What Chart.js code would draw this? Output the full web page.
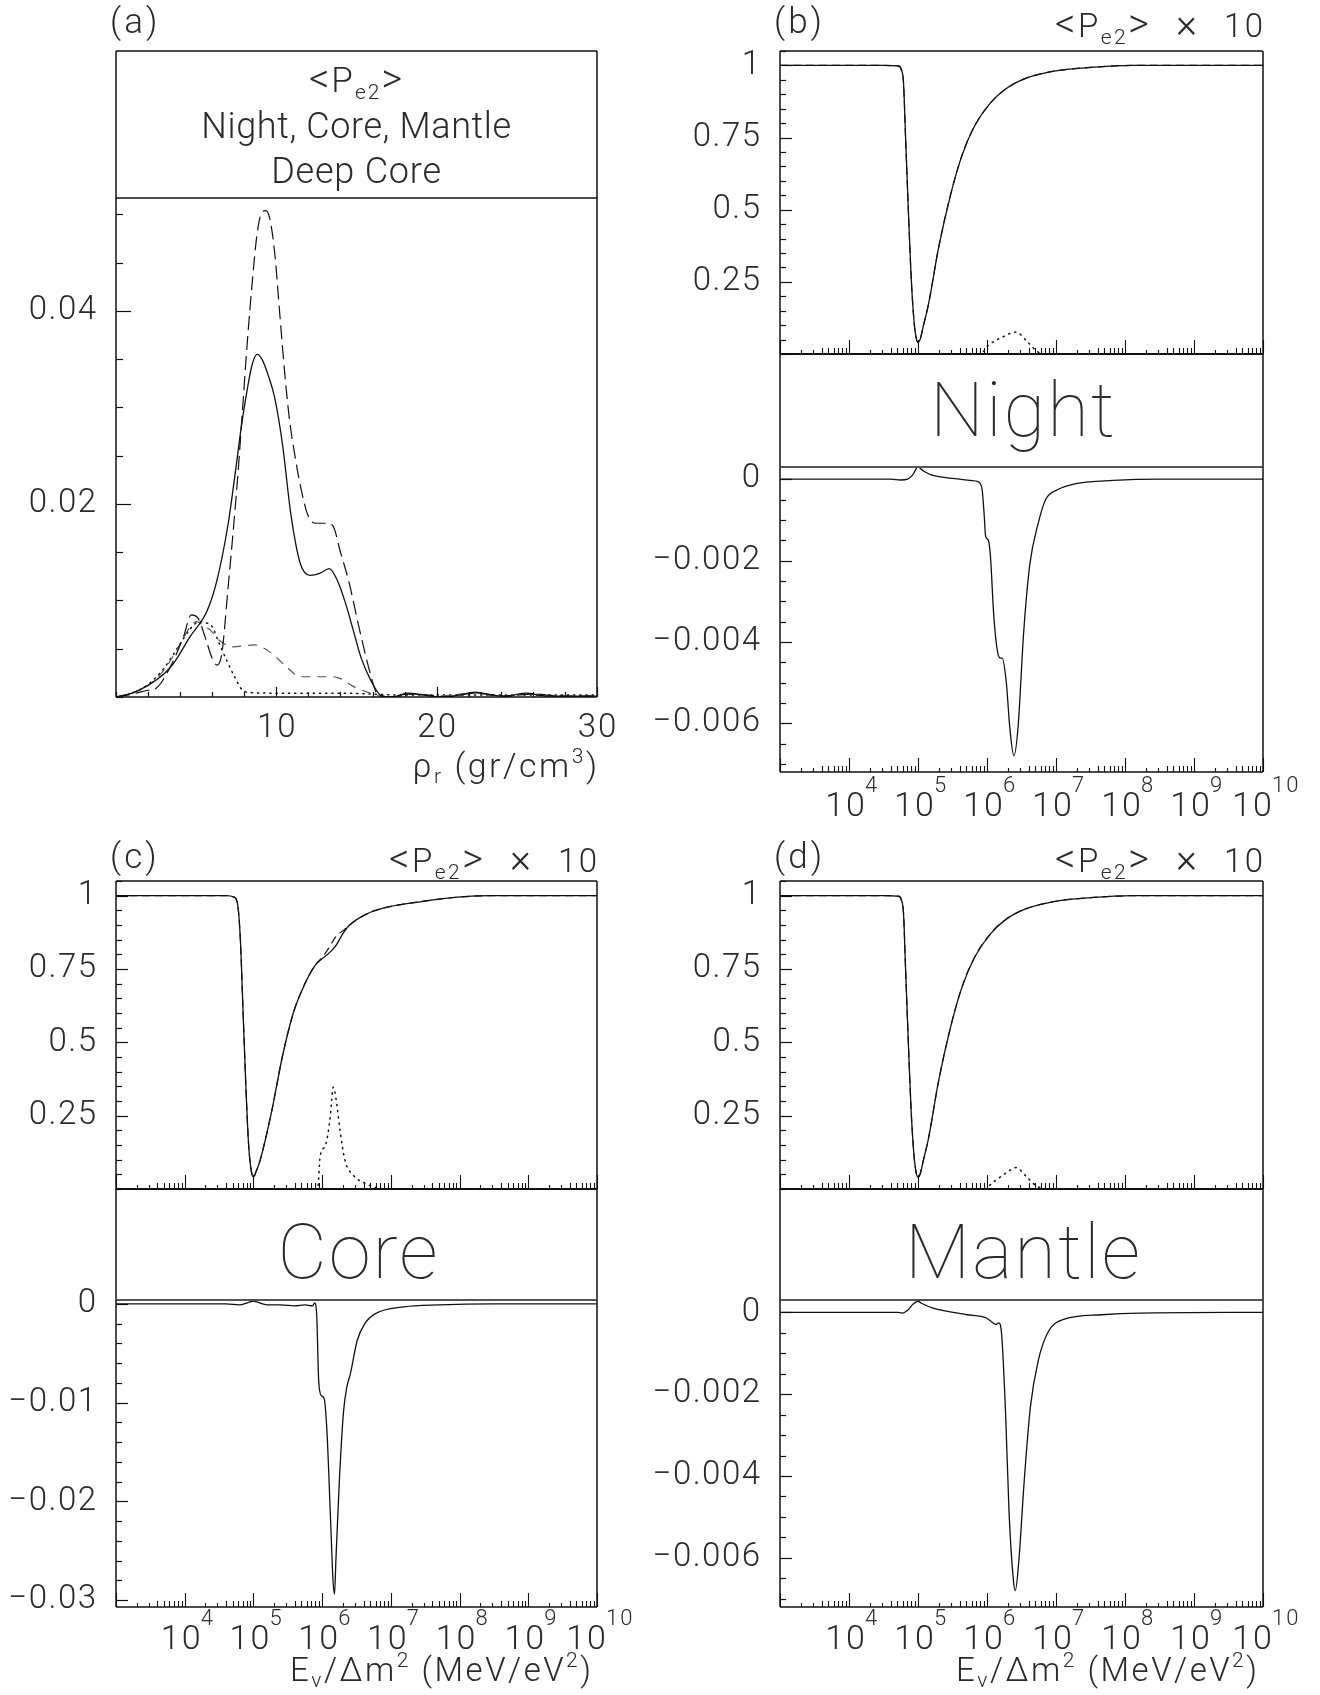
<!DOCTYPE html>
<html><head><meta charset="utf-8">
<script src="https://cdn.jsdelivr.net/npm/chart.js@4.4.1/dist/chart.umd.min.js"></script>
<style>
html,body{margin:0;padding:0;background:#fff;}
#wrap{position:relative;width:1320px;height:1695px;background:#fff;}
canvas{position:absolute;left:0;top:0;pointer-events:none;}
</style></head><body><div id="wrap">
<canvas id="cA" width="1320" height="1695"></canvas>
<canvas id="cBu" width="1320" height="1695"></canvas>
<canvas id="cBl" width="1320" height="1695"></canvas>
<canvas id="cCu" width="1320" height="1695"></canvas>
<canvas id="cCl" width="1320" height="1695"></canvas>
<canvas id="cDu" width="1320" height="1695"></canvas>
<canvas id="cDl" width="1320" height="1695"></canvas>
</div>
<script>
// ===================== DATA =====================
// Panel (a): distributions vs rho_r (gr/cm^3)
const aRhoNight = [0, 1, 2, 3, 3.6, 4.6, 5.7, 6.3, 7.0, 7.5, 7.8, 8.2, 8.5, 8.8, 9.1, 9.5, 9.9, 10.4, 10.9, 11.5, 12.1, 12.7, 13.3, 13.8, 14.3, 14.8, 15.3, 15.9, 16.5, 17.2, 18.2, 19.2, 20.4, 21.4, 22.4, 23.4, 24.3, 25.6, 26.8, 28, 30];
const aNight    = [0, 0.0004, 0.0012, 0.0024, 0.0035, 0.0062, 0.009, 0.0121, 0.018, 0.024, 0.0278, 0.032, 0.0345, 0.0355, 0.035, 0.0333, 0.031, 0.026, 0.019, 0.0138, 0.0126, 0.0128, 0.0133, 0.0121, 0.0098, 0.0069, 0.004, 0.0017, 0.0002, 0, 0.0004, 0.0002, 0, 0.0002, 0.0005, 0.0002, 0.0001, 0.0004, 0.0001, 0.0001, 0.0001];
const aRhoCore  = [0, 1, 2, 2.5, 3.5, 4.2, 4.7, 5.1, 5.6, 6.0, 6.3, 6.6, 7.0, 7.3, 7.6, 7.9, 8.2, 8.5, 8.8, 9.1, 9.35, 9.6, 9.9, 10.2, 10.5, 10.8, 11.1, 11.5, 12.0, 12.5, 13.0, 13.5, 14.0, 14.5, 15.2, 15.85, 16.3, 17, 18.2, 19.5, 20.5, 22.4, 24.3, 25.8, 28, 30];
const aCore     = [0, 0.0003, 0.0007, 0.0009, 0.0035, 0.0062, 0.0085, 0.0082, 0.006, 0.004, 0.0033, 0.0045, 0.0115, 0.017, 0.023, 0.03, 0.037, 0.043, 0.048, 0.0502, 0.0504, 0.0495, 0.046, 0.04, 0.034, 0.029, 0.0256, 0.0219, 0.0187, 0.018, 0.018, 0.0178, 0.015, 0.0121, 0.0069, 0.0025, 0.0003, 0, 0.0003, 0.0002, 0, 0.0004, 0.0001, 0.0003, 0.0001, 0.0001];
const aRhoMantle = [0, 1, 2, 3, 4, 4.6, 5.0, 5.4, 5.9, 6.5, 7.3, 8.0, 8.6, 9.4, 10.0, 10.65, 11.5, 12.7, 13.5, 14.0, 14.8, 15.85, 16.5, 17.5, 18.5, 20, 22.5, 24, 26, 28, 30];
const aMantle    = [0, 0.0004, 0.0012, 0.0028, 0.0055, 0.0072, 0.0078, 0.0075, 0.0069, 0.0058, 0.0052, 0.0053, 0.0054, 0.0049, 0.0041, 0.0031, 0.0021, 0.0021, 0.0021, 0.0019, 0.0011, 0.0004, 0.0001, 0, 0.0003, 0.0001, 0.0004, 0.0001, 0.0003, 0, 0.0001];
const aRhoDeep = [0, 1, 2, 3, 4, 4.6, 5.2, 5.6, 6.0, 6.4, 6.9, 7.4, 7.9, 8.5, 10, 12, 14, 16, 18, 20, 22, 24, 26, 28, 30];
const aDeep    = [0, 0.0004, 0.0013, 0.003, 0.0055, 0.007, 0.0078, 0.0077, 0.0073, 0.0057, 0.0038, 0.0021, 0.0007, 0.00045, 0.0004, 0.0004, 0.0004, 0.0003, 0.0002, 0.0002, 0.0002, 0.0002, 0.0002, 0.0002, 0.0002];

// Panel (b) Night: log10(E/dm2) and <Pe2>
const bLogE   = [3, 4.5, 4.72, 4.76, 4.79, 4.82, 4.86, 4.9, 4.94, 4.97, 5.0, 5.03, 5.08, 5.15, 5.3, 5.47, 5.64, 5.82, 6.05, 6.28, 6.56, 6.97, 7.5, 8.1, 10];
const bNightP = [1, 1, 0.998, 0.985, 0.94, 0.75, 0.5, 0.27, 0.12, 0.06, 0.04, 0.05, 0.1, 0.17, 0.37, 0.55, 0.69, 0.79, 0.87, 0.92, 0.955, 0.98, 0.993, 1.0, 1.0];
const bNightPAlt = [1, 1, 0.998, 0.985, 0.94, 0.75, 0.5, 0.27, 0.12, 0.06, 0.04, 0.05, 0.1, 0.17, 0.37, 0.55, 0.69, 0.79, 0.87, 0.92, 0.955, 0.98, 0.993, 1.0, 1.0];
const bDotLogE = [3, 5.9, 6.02, 6.22, 6.42, 6.59, 6.74, 6.9, 10];
const bDot     = [0, 0, 0.03, 0.058, 0.076, 0.041, 0.007, 0, 0];
const bLowLogE = [3, 4.6, 4.75, 4.85, 4.92, 5.0, 5.08, 5.2, 5.4, 5.6, 5.75, 5.87, 5.9, 5.93, 5.96, 5.98, 6.02, 6.05, 6.1, 6.16, 6.2, 6.22, 6.28, 6.33, 6.39, 6.45, 6.53, 6.62, 6.74, 6.85, 7.02, 7.31, 7.83, 8.5, 10];
const bLow     = [0, 0, -0.00002, 0, 0.0001, 0.0003, 0.0002, 0.0001, 0.00004, 0, -0.00003, -0.00006, -0.0001, -0.00026, -0.0009, -0.0014, -0.0015, -0.0019, -0.0034, -0.0043, -0.0044, -0.0044, -0.005, -0.0061, -0.0068, -0.0061, -0.0038, -0.0021, -0.0011, -0.0005, -0.00026, -0.0001, -0.00003, 0, 0];

// Panel (c) Core
const cLogE    = [3, 4.6, 4.72, 4.77, 4.81, 4.85, 4.89, 4.93, 4.97, 5.0, 5.04, 5.1, 5.27, 5.42, 5.58, 5.73, 5.89, 6.0, 6.08, 6.2, 6.3, 6.4, 6.67, 6.93, 7.45, 7.97, 8.5, 10];
const cCoreP   = [1, 1, 0.995, 0.97, 0.85, 0.6, 0.35, 0.15, 0.06, 0.04, 0.06, 0.1, 0.27, 0.45, 0.6, 0.69, 0.76, 0.785, 0.8, 0.83, 0.87, 0.9, 0.94, 0.96, 0.98, 0.995, 1.0, 1.0];
const cCorePAlt= [1, 1, 0.995, 0.97, 0.85, 0.6, 0.35, 0.15, 0.06, 0.04, 0.06, 0.1, 0.27, 0.45, 0.6, 0.69, 0.76, 0.79, 0.815, 0.86, 0.88, 0.9, 0.94, 0.96, 0.98, 0.995, 1.0, 1.0];
const cDotLogE = [3, 5.9, 5.94, 5.97, 6.05, 6.12, 6.16, 6.2, 6.26, 6.33, 6.46, 6.62, 6.78, 7.0, 10];
const cDot     = [0, 0, 0.01, 0.11, 0.15, 0.25, 0.347, 0.31, 0.2, 0.1, 0.045, 0.02, 0.005, 0, 0];
const cLowLogE = [3, 4.6, 4.8, 4.95, 5.0, 5.05, 5.2, 5.4, 5.6, 5.75, 5.86, 5.89, 5.92, 5.95, 5.99, 6.03, 6.07, 6.12, 6.16, 6.18, 6.2, 6.25, 6.31, 6.36, 6.41, 6.51, 6.62, 6.77, 7.19, 7.71, 8.5, 10];
const cLow     = [0, 0, -0.0001, 0.0002, 0.0003, 0.0002, -0.0001, -0.0001, -0.0002, -0.0001, -0.0002, 0.0001, -0.001, -0.0078, -0.0093, -0.0096, -0.0129, -0.0214, -0.0282, -0.0294, -0.026, -0.018, -0.011, -0.0084, -0.0071, -0.0037, -0.002, -0.001, -0.0003, -0.0001, 0, 0];

// Panel (d) Mantle
const dLogE     = [3, 4.5, 4.72, 4.76, 4.79, 4.82, 4.86, 4.9, 4.94, 4.97, 5.0, 5.03, 5.08, 5.15, 5.3, 5.47, 5.64, 5.82, 6.05, 6.28, 6.56, 6.97, 7.5, 8.1, 10];
const dMantleP  = [1, 1, 0.998, 0.985, 0.94, 0.75, 0.5, 0.27, 0.12, 0.06, 0.04, 0.05, 0.1, 0.17, 0.37, 0.55, 0.69, 0.79, 0.87, 0.92, 0.955, 0.98, 0.993, 1.0, 1.0];
const dMantlePAlt = [1, 1, 0.998, 0.985, 0.94, 0.75, 0.5, 0.27, 0.12, 0.06, 0.04, 0.05, 0.1, 0.17, 0.37, 0.55, 0.69, 0.79, 0.87, 0.92, 0.955, 0.98, 0.993, 1.0, 1.0];
const dDotLogE  = [3, 5.95, 6.1, 6.28, 6.42, 6.58, 6.72, 6.9, 10];
const dDot      = [0, 0, 0.025, 0.055, 0.073, 0.04, 0.01, 0, 0];
const dLowLogE  = [3, 4.7, 4.77, 4.85, 4.93, 5.0, 5.05, 5.22, 5.43, 5.71, 5.99, 6.08, 6.13, 6.17, 6.21, 6.27, 6.32, 6.38, 6.41, 6.46, 6.54, 6.63, 6.74, 6.88, 7.1, 7.66, 8.21, 10];
const dLow      = [0, 0, -0.00002, 0.00005, 0.0002, 0.00027, 0.00022, 0.0001, 0.00002, -0.00006, -0.00014, -0.00025, -0.0003, -0.00026, -0.0005, -0.0025, -0.0049, -0.0065, -0.0068, -0.0061, -0.0041, -0.0023, -0.0012, -0.0005, -0.00018, -0.00006, -0.00002, 0];

// Tick labels
const aXTickLabels = [10, 20, 30];
const aYTickLabels = [0.02, 0.04];
const upperYTickLabels = [0.25, 0.5, 0.75, 1];
const smallLowYTickLabels = [0, -0.002, -0.004, -0.006];
const coreLowYTickLabels = [0, -0.01, -0.02, -0.03];
const logTickExponents = [4, 5, 6, 7, 8, 9, 10];

// ===================== LAYOUT / STYLE =====================
const W = 1320, H = 1695;
const INK = '#111';
const TXT = '#2b2b2b';
const FAM = 'Roboto, "Liberation Sans", Arial, sans-serif';
const font = (s, w) => `${w || 300} ${s}px ${FAM}`;

const GEO = {
  a: { left: 116, right: 597, top: 51, split: 198, bottom: 697 },
  b: { left: 780, right: 1263, top: 51, upBottom: 354, lowTop: 467, bottom: 772 },
  c: { left: 116, right: 597, top: 881, upBottom: 1189, lowTop: 1300, bottom: 1607 },
  d: { left: 780, right: 1263, top: 881, upBottom: 1189, lowTop: 1300, bottom: 1607 }
};

const STY = {
  solid:  { borderColor: INK, borderWidth: 1.3, borderDash: [] },
  long:   { borderColor: INK, borderWidth: 1.2, borderDash: [14, 6] },
  medium: { borderColor: '#555', borderWidth: 1.2, borderDash: [9, 7] },
  dash:   { borderColor: INK, borderWidth: 1.2, borderDash: [8, 5] },
  dot:    { borderColor: INK, borderWidth: 1.5, borderDash: [1.2, 5], borderCapStyle: 'round' }
};

function ser(xv, yv, sty, log) {
  return Object.assign({ data: xv.map((x, i) => ({ x: log ? Math.pow(10, x) : x, y: yv[i] })) }, sty);
}

function line(ctx, x1, y1, x2, y2, w, col) {
  ctx.beginPath(); ctx.lineWidth = w || 1.5; ctx.strokeStyle = col || INK;
  ctx.moveTo(x1, y1); ctx.lineTo(x2, y2); ctx.stroke();
}

function setLS(ctx, px) { try { ctx.letterSpacing = (px || 0) + 'px'; } catch (e) {} }

// pieces: [text, size, dy, weight]
function rich(ctx, pieces, x, y, align, ls) {
  setLS(ctx, ls);
  let total = 0;
  pieces.forEach(p => { ctx.font = font(p[1], p[3]); total += ctx.measureText(p[0]).width; });
  let cx = align === 'right' ? x - total + (ls || 0) : (align === 'center' ? x - total / 2 : x);
  ctx.textAlign = 'left'; ctx.textBaseline = 'alphabetic'; ctx.fillStyle = TXT;
  pieces.forEach(p => { ctx.font = font(p[1], p[3]); ctx.fillText(p[0], cx, y + (p[2] || 0)); cx += ctx.measureText(p[0]).width; });
  setLS(ctx, 0);
}

const fmt = v => (v < 0 ? '\u2212' : '') + String(Math.abs(v));

function yTicks(chart, ctx, step, majors, majLen, minLen) {
  const a = chart.chartArea, y = chart.scales.y;
  ctx.lineWidth = 1.2; ctx.strokeStyle = INK;
  for (let k = Math.ceil(y.min / step - 1e-6); k * step <= y.max + step * 1e-6; k++) {
    const v = k * step;
    const py = Math.round(y.getPixelForValue(v)) + 0.5;
    const maj = majors.some(m => Math.abs(m - v) < step * 1e-3);
    ctx.beginPath(); ctx.moveTo(a.left, py); ctx.lineTo(a.left + (maj ? majLen : minLen), py); ctx.stroke();
  }
  ctx.fillStyle = TXT; ctx.font = font(33); ctx.textAlign = 'right'; ctx.textBaseline = 'middle';
  setLS(ctx, 1.5);
  majors.forEach(v => ctx.fillText(fmt(v), a.left - 18.5, y.getPixelForValue(v)));
  setLS(ctx, 0);
}

function linXTicks(chart, ctx, step, majors, majLen, minLen) {
  const a = chart.chartArea, x = chart.scales.x;
  ctx.lineWidth = 1.2; ctx.strokeStyle = INK;
  for (let k = Math.ceil(x.min / step); k * step <= x.max; k++) {
    const v = k * step;
    const px = Math.round(x.getPixelForValue(v)) + 0.5;
    const maj = majors.includes(v);
    ctx.beginPath(); ctx.moveTo(px, a.bottom); ctx.lineTo(px, a.bottom - (maj ? majLen : minLen)); ctx.stroke();
  }
  ctx.fillStyle = TXT; ctx.font = font(33); ctx.textAlign = 'center'; ctx.textBaseline = 'middle';
  setLS(ctx, 2);
  majors.forEach(v => ctx.fillText(String(v), x.getPixelForValue(v) + 1, a.bottom + 32));
  setLS(ctx, 0);
}

function logXTicks(chart, ctx) {
  const a = chart.chartArea, x = chart.scales.x;
  const d0 = Math.round(Math.log10(x.min)), d1 = Math.round(Math.log10(x.max));
  ctx.lineWidth = 1.1; ctx.strokeStyle = INK;
  for (let d = d0; d <= d1; d++) {
    for (let m = 1; m <= 9; m++) {
      const v = m * Math.pow(10, d);
      if (v > x.max * 1.0001) break;
      const px = Math.round(x.getPixelForValue(v)) + 0.5;
      const len = m === 1 ? 14 : (m < 4 ? 4 : 6);
      ctx.beginPath(); ctx.moveTo(px, a.bottom); ctx.lineTo(px, a.bottom - len); ctx.stroke();
    }
  }
}

function logXLabels(chart, ctx, baseDy, expDy) {
  const a = chart.chartArea, x = chart.scales.x;
  ctx.fillStyle = TXT;
  setLS(ctx, 2);
  logTickExponents.forEach(e => {
    let cx = x.getPixelForValue(Math.pow(10, e));
    if (e === logTickExponents[logTickExponents.length - 1]) cx -= 10;
    else cx -= 3;
    ctx.font = font(34); ctx.textAlign = 'center'; ctx.textBaseline = 'middle';
    ctx.fillText('10', cx, a.bottom + baseDy);
    ctx.font = font(22); ctx.textAlign = 'left';
    ctx.fillText(String(e), cx + 19, a.bottom + expDy);
  });
  setLS(ctx, 0);
}

function pe2Title(ctx, right, base) {
  rich(ctx, [['<', 40], ['P', 33], ['e2', 21, 7], ['>', 40], ['  \u00D7  ', 40], ['10', 33]], right, base, 'right', 2.5);
}

function panelHeader(ctx, g, letter, yMid, withPe2) {
  ctx.fillStyle = TXT; ctx.font = font(35); ctx.textAlign = 'left'; ctx.textBaseline = 'middle';
  setLS(ctx, 3);
  ctx.fillText('(' + letter + ')', g.left - 6, yMid);
  setLS(ctx, 0);
  if (withPe2) pe2Title(ctx, g.right, yMid + 13);
}

function mk(id, area, xs, ys, datasets, deco) {
  const cv = document.getElementById(id);
  return new Chart(cv, {
    type: 'line',
    data: { datasets },
    options: {
      responsive: false, maintainAspectRatio: false, animation: false, devicePixelRatio: 1, events: [],
      layout: { padding: { left: area.left, top: area.top, right: W - area.right, bottom: H - area.bottom } },
      plugins: { legend: { display: false }, tooltip: { enabled: false }, title: { display: false } },
      scales: { x: Object.assign({ display: false }, xs), y: Object.assign({ display: false }, ys) },
      elements: { point: { radius: 0, hoverRadius: 0 }, line: { fill: false, cubicInterpolationMode: 'monotone' } }
    },
    plugins: [{ id: 'deco' + id, afterDatasetsDraw(chart) { const c = chart.ctx; c.save(); deco(chart, c); c.restore(); } }]
  });
}

const LOGX = { type: 'logarithmic', min: 1e3, max: 1e10 };
const UPY = { type: 'linear', min: 0, max: 1.05 };

// ---------- Panel (a) ----------
(function () {
  const g = GEO.a;
  mk('cA', { left: g.left, right: g.right, top: g.split, bottom: g.bottom },
    { type: 'linear', min: 0, max: 30 }, { type: 'linear', min: 0, max: 0.0517 },
    [ser(aRhoNight, aNight, STY.solid), ser(aRhoCore, aCore, STY.long),
     ser(aRhoMantle, aMantle, STY.medium), ser(aRhoDeep, aDeep, STY.dot)],
    (chart, ctx) => {
      const a = chart.chartArea;
      line(ctx, g.left, g.top, g.right, g.top);
      line(ctx, g.left, g.top, g.left, a.bottom);
      line(ctx, g.right, g.top, g.right, a.bottom);
      line(ctx, g.left, a.top, g.right, a.top);
      line(ctx, g.left, a.bottom, g.right, a.bottom);
      yTicks(chart, ctx, 0.005, aYTickLabels, 15, 7);
      linXTicks(chart, ctx, 2, aXTickLabels, 10, 5);
      panelHeader(ctx, g, 'a', 24, false);
      const cx = (g.left + g.right) / 2;
      rich(ctx, [['<', 40], ['P', 35], ['e2', 21, 7], ['>', 40]], cx, 92, 'center', 2);
      rich(ctx, [['Night, Core, Mantle', 36]], cx, 138, 'center', 0.6);
      rich(ctx, [['Deep Core', 36]], cx, 183, 'center', 0.8);
      rich(ctx, [['\u03C1', 34], ['r', 21, 6], [' (gr/cm', 34], ['3', 21, -14], [')', 34]], g.right, 777, 'right', 2.5);
    });
})();

// ---------- Panels (b),(c),(d) ----------
function trio(key, letter, band, upSets, lowSets, lowY, lowLabels, lowStep, withTitle) {
  const g = GEO[key];
  const hdrY = key === 'b' ? 24 : 859;
  mk('c' + key.toUpperCase() + 'u', { left: g.left, right: g.right, top: g.top, bottom: g.upBottom }, LOGX, UPY, upSets,
    (chart, ctx) => {
      const a = chart.chartArea;
      line(ctx, g.left, g.top, g.right, g.top);
      line(ctx, g.left, g.top, g.left, g.lowTop);
      line(ctx, g.right, g.top, g.right, g.lowTop);
      line(ctx, g.left, a.bottom, g.right, a.bottom, 1.8);
      yTicks(chart, ctx, 0.05, upperYTickLabels, 12, 6);
      logXTicks(chart, ctx);
      panelHeader(ctx, g, letter, hdrY, true);
      ctx.fillStyle = TXT; ctx.font = font(76, 100); ctx.textAlign = 'center'; ctx.textBaseline = 'alphabetic';
      setLS(ctx, 2);
      ctx.fillText(band, (g.left + g.right) / 2 + 2, key === 'b' ? 436 : 1278);
      setLS(ctx, 0);
    });
  mk('c' + key.toUpperCase() + 'l', { left: g.left, right: g.right, top: g.lowTop, bottom: g.bottom }, LOGX, lowY, lowSets,
    (chart, ctx) => {
      const a = chart.chartArea;
      line(ctx, g.left, a.top, g.right, a.top, 2.2, '#555');
      line(ctx, g.left, a.top, g.left, a.bottom);
      line(ctx, g.right, a.top, g.right, a.bottom);
      line(ctx, g.left, a.bottom, g.right, a.bottom);
      yTicks(chart, ctx, lowStep, lowLabels, 12, 6);
      logXTicks(chart, ctx);
      logXLabels(chart, ctx, key === 'b' ? 35 : 33, key === 'b' ? 14 : 12);
      if (withTitle) rich(ctx, [['E', 33], ['\u03BD', 21, 6], ['/\u0394m', 33], ['2', 21, -14], [' (MeV/eV', 33], ['2', 21, -14], [')', 33]], g.right - 6, a.bottom + 74, 'right', 2.5);
    });
}

trio('b', 'b', 'Night',
  [ser(bLogE, bNightP, STY.solid, true), ser(bLogE, bNightPAlt, STY.dash, true), ser(bDotLogE, bDot, STY.dot, true)],
  [ser(bLowLogE, bLow, STY.solid, true)],
  { type: 'linear', min: -0.0072, max: 0.0003 }, smallLowYTickLabels, 0.0005, false);

trio('c', 'c', 'Core',
  [ser(cLogE, cCoreP, STY.solid, true), ser(cLogE, cCorePAlt, STY.dash, true), ser(cDotLogE, cDot, STY.dot, true)],
  [ser(cLowLogE, cLow, STY.solid, true)],
  { type: 'linear', min: -0.0307, max: 0.0004 }, coreLowYTickLabels, 0.002, true);

trio('d', 'd', 'Mantle',
  [ser(dLogE, dMantleP, STY.solid, true), ser(dLogE, dMantlePAlt, STY.dash, true), ser(dDotLogE, dDot, STY.dot, true)],
  [ser(dLowLogE, dLow, STY.solid, true)],
  { type: 'linear', min: -0.0072, max: 0.0003 }, smallLowYTickLabels, 0.0005, true);
</script>
</body></html>
